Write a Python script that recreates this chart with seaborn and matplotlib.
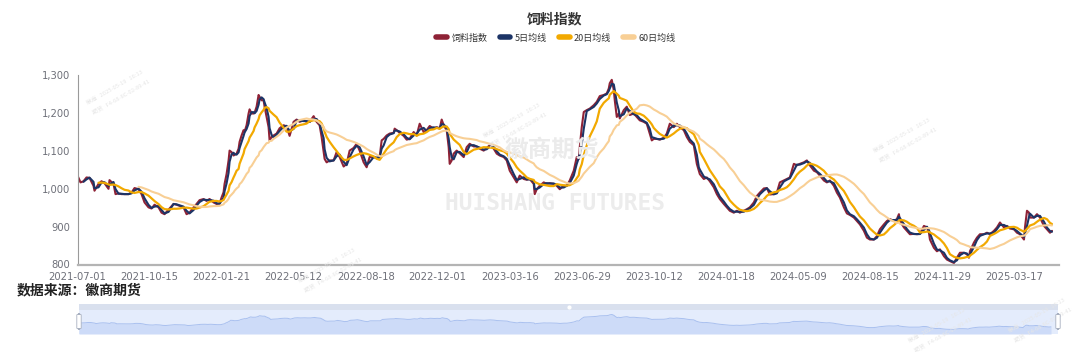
import numpy as np
import pandas as pd
import matplotlib
matplotlib.use("Agg")
import matplotlib.pyplot as plt
import seaborn as sns
from matplotlib.lines import Line2D
from matplotlib.patches import Rectangle, FancyBboxPatch
from matplotlib.ticker import FuncFormatter

# ---------------- data (trading-day index, feed index value) ----------------
day = [0, 3, 6, 9, 12, 16, 17, 21, 24, 27, 31, 32, 36, 38, 41, 44, 47, 51, 54, 57,
       61, 64, 67, 71, 74, 77, 81, 84, 87, 91, 96, 99, 102, 106, 109, 112, 116, 119, 122, 126,
       129, 132, 136, 139, 142, 144, 146, 147, 149, 151, 152, 154, 156, 157, 159, 161, 162, 164, 166, 167,
       169, 171, 172, 174, 176, 177, 179, 181, 182, 184, 186, 187, 189, 191, 192, 194, 196, 199, 202, 206,
       209, 212, 216, 219, 222, 226, 229, 232, 236, 239, 242, 244, 246, 247, 249, 252, 256, 259, 262, 266,
       269, 272, 276, 279, 282, 286, 289, 292, 296, 299, 302, 304, 306, 309, 312, 316, 317, 319, 322, 326,
       329, 332, 336, 339, 342, 346, 349, 352, 356, 359, 362, 364, 366, 369, 371, 372, 374, 376, 379, 382,
       386, 389, 392, 396, 399, 402, 406, 409, 412, 416, 419, 422, 426, 429, 432, 436, 439, 442, 446, 449,
       452, 456, 457, 459, 462, 466, 469, 472, 476, 479, 482, 486, 489, 492, 496, 499, 501, 502, 504, 506,
       509, 512, 516, 519, 522, 526, 529, 531, 532, 534, 536, 537, 539, 541, 542, 546, 549, 552, 556, 559,
       562, 566, 569, 572, 574, 576, 579, 582, 586, 589, 592, 596, 599, 602, 606, 609, 612, 616, 619, 621,
       622, 626, 629, 632, 636, 639, 642, 646, 649, 652, 656, 659, 662, 666, 669, 672, 676, 679, 682, 686,
       689, 692, 696, 699, 702, 706, 709, 712, 716, 719, 722, 726, 729, 732, 736, 739, 742, 746, 749, 752,
       756, 759, 762, 766, 769, 772, 776, 779, 782, 786, 789, 792, 796, 799, 802, 806, 809, 812, 816, 819,
       821, 822, 826, 829, 832, 836, 839, 842, 846, 849, 851, 852, 856, 859, 862, 866, 869, 872, 876, 879,
       882, 886, 889, 891, 892, 896, 899, 902, 906, 909, 912, 916, 919, 922, 926, 929, 932, 936, 939, 942,
       946, 947, 949, 951, 952, 956, 959, 962, 966, 969, 972, 974]

feed_index = [1035, 1017, 1020, 1030, 1029, 1008, 995, 1013, 1020, 1015, 1000, 1023, 1013, 986, 988, 986, 986, 986, 990, 1002,
              999, 986, 964, 951, 948, 958, 951, 937, 933, 945, 960, 958, 955, 951, 933, 937, 951, 960, 970, 973,
              968, 973, 964, 960, 961, 977, 991, 1013, 1039, 1075, 1101, 1097, 1088, 1090, 1093, 1106, 1124, 1141, 1155, 1151,
              1168, 1199, 1210, 1199, 1199, 1201, 1217, 1248, 1243, 1234, 1234, 1217, 1190, 1163, 1128, 1137, 1141, 1146, 1160, 1168,
              1165, 1140, 1177, 1183, 1177, 1181, 1177, 1177, 1192, 1177, 1168, 1137, 1097, 1079, 1070, 1075, 1075, 1097, 1084, 1059,
              1066, 1101, 1108, 1119, 1101, 1070, 1057, 1084, 1084, 1081, 1084, 1128, 1132, 1141, 1146, 1148, 1159, 1155, 1148, 1140,
              1130, 1132, 1150, 1141, 1172, 1150, 1155, 1166, 1159, 1163, 1159, 1183, 1168, 1155, 1110, 1066, 1075, 1093, 1101, 1094,
              1084, 1110, 1119, 1112, 1112, 1106, 1101, 1108, 1115, 1106, 1093, 1088, 1084, 1075, 1048, 1030, 1017, 1035, 1026, 1024,
              1026, 1013, 986, 999, 1008, 1017, 1013, 1015, 1013, 1008, 999, 1008, 1008, 1022, 1048, 1084, 1079, 1110, 1163, 1203,
              1208, 1212, 1221, 1230, 1245, 1248, 1252, 1265, 1279, 1288, 1261, 1234, 1190, 1199, 1186, 1208, 1217, 1195, 1199, 1190,
              1181, 1177, 1172, 1145, 1128, 1132, 1132, 1130, 1135, 1146, 1172, 1163, 1172, 1163, 1155, 1137, 1124, 1115, 1066, 1048,
              1039, 1026, 1030, 1020, 1004, 986, 973, 960, 951, 942, 937, 942, 937, 942, 946, 951, 964, 981, 990, 1001,
              1002, 985, 986, 990, 1017, 1022, 1026, 1030, 1066, 1062, 1066, 1070, 1075, 1062, 1048, 1044, 1035, 1022, 1017, 1022,
              1008, 990, 977, 951, 935, 931, 924, 915, 906, 889, 871, 866, 866, 875, 893, 906, 915, 920, 915, 920,
              933, 915, 898, 889, 880, 881, 880, 881, 902, 898, 884, 866, 844, 835, 840, 822, 813, 809, 804, 818,
              831, 831, 827, 818, 835, 858, 871, 880, 880, 884, 880, 889, 898, 911, 898, 902, 895, 893, 884, 880,
              866, 898, 942, 937, 924, 924, 933, 924, 902, 893, 884, 889]

tick_labels = ["2021-07-01", "2021-10-15", "2022-01-21", "2022-05-12", "2022-08-18",
               "2022-12-01", "2023-03-16", "2023-06-29", "2023-10-12", "2024-01-18",
               "2024-05-09", "2024-08-15", "2024-11-29", "2025-03-17"]
tick_step = 72          # categories between labelled ticks
last_category = 981     # last category index on the axis

series_names = ["饲料指数", "5日均线", "20日均线", "60日均线"]
ma_windows = [None, 5, 20, 60]
colors = ["#8E2236", "#1C3466", "#F2A900", "#F8CF95"]
widths = [1.5, 1.5, 1.6, 1.5]

# ---------------- derived moving averages ----------------
s = pd.Series(feed_index, index=pd.to_timedelta(day, unit="D"), dtype=float)
frames = []
for name, w in zip(series_names, ma_windows):
    if w is None:
        vals = s.values
    else:
        vals = s.rolling(f"{w}D").mean().values.copy()
        vals[np.array(day) < w - 1] = np.nan
    frames.append(pd.DataFrame({"day": day, "value": vals, "series": name}))
long = pd.concat(frames, ignore_index=True).dropna()

# ---------------- figure ----------------
sns.set_theme(style="white")
plt.rcParams["font.family"] = ["Noto Sans CJK SC", "DejaVu Sans"]

W, H = 1080, 352
fig = plt.figure(figsize=(W / 100, H / 100), dpi=100)
fig.patch.set_facecolor("white")

def fx(px):
    return px / W

def fy(py):
    return 1 - py / H

ax_l, ax_r, ax_t, ax_b = 77.5, 1059, 75.3, 264.5
ax = fig.add_axes([fx(ax_l), fy(ax_b), fx(ax_r - ax_l), (ax_b - ax_t) / H])
ax.set_facecolor("none")

# watermarks (behind data)
fig.text(fx(552), fy(150), "徽商期货", fontsize=17, color="#ebebeb", ha="center", va="center",
         fontweight="bold", zorder=0)
fig.text(fx(555), fy(203), "HUISHANG FUTURES", fontsize=16.5, color="#ececec", ha="center",
         va="center", fontweight="bold", family="DejaVu Sans Mono", zorder=0)
for (wx, wy) in [(118, 92), (515, 125), (905, 140), (330, 270), (1040, 320), (940, 330)]:
    fig.text(fx(wx), fy(wy), "徽商   2025-05-19   16:13\n期货   F4-68-8C-02-89-41", fontsize=4.2,
             color="#e6e6e6", rotation=30, ha="center", va="center", zorder=0, linespacing=2.2)

for name, c, lw in zip(series_names, colors, widths):
    sub = long[long["series"] == name]
    sns.lineplot(data=sub, x="day", y="value", color=c, linewidth=lw, ax=ax,
                 estimator=None, sort=False, legend=False)

ax.set_xlim(0, last_category)
ax.set_ylim(800, 1300)
ax.set_yticks(np.arange(800, 1301, 100))
ax.yaxis.set_major_formatter(FuncFormatter(lambda v, p: f"{v:,.0f}"))
ax.set_xticks(np.arange(len(tick_labels)) * tick_step)
ax.set_xticklabels(tick_labels)
ax.set_xlabel("")
ax.set_ylabel("")
for side in ["top", "right"]:
    ax.spines[side].set_visible(False)
ax.spines["left"].set_color("#9a9a9a")
ax.spines["left"].set_linewidth(0.8)
ax.spines["bottom"].set_color("#b4b4b4")
ax.spines["bottom"].set_linewidth(1.6)
ax.tick_params(axis="both", which="major", length=3.5, width=0.8, colors="#9a9a9a",
               labelcolor="#6E7079", labelsize=7.2, pad=2)
ax.tick_params(axis="x", pad=2)
for lab in ax.get_xticklabels() + ax.get_yticklabels():
    lab.set_family("DejaVu Sans")
ax.grid(False)

# title and legend
fig.text(fx(555), fy(19), "饲料指数", fontsize=10, fontweight="bold", color="#333333",
         ha="center", va="center")
handles = [Line2D([0], [0], color=c, lw=4, solid_capstyle="round") for c in colors]
fig.legend(handles, series_names, loc="center", bbox_to_anchor=(fx(556), fy(38)), ncol=4,
           frameon=False, fontsize=6.5, handlelength=1.2, handletextpad=0.5,
           columnspacing=1.3, labelcolor="#333333")

# source
fig.text(fx(17), fy(290), "数据来源：徽商期货", fontsize=10, fontweight="bold", color="#222222",
         ha="left", va="center")

# ---------------- data zoom slider ----------------
sl_l, sl_r, sl_t, sl_b = 79, 1058, 304, 334
axs = fig.add_axes([fx(sl_l), fy(sl_b), fx(sl_r - sl_l), (sl_b - sl_t) / H])
axs.set_xlim(0, last_category)
ext_lo, ext_hi = min(feed_index), max(feed_index)
pad = (ext_hi - ext_lo) * 0.3
band = (ext_hi + pad - (ext_lo - pad)) * (6 / 24)
axs.set_ylim(ext_lo - pad, ext_hi + pad + band)
axs.add_patch(Rectangle((0, ext_lo - pad), last_category, ext_hi - ext_lo + 2 * pad + band,
                        facecolor="#e4ecfc", edgecolor="none", zorder=0))
axs.add_patch(Rectangle((0, ext_hi + pad), last_category, band,
                        facecolor="#d9e0ee", edgecolor="none", zorder=1))
axs.fill_between(day, ext_lo - pad, feed_index, color="#cddbf8", linewidth=0, zorder=2)
sns.lineplot(x=day, y=feed_index, ax=axs, color="#a9c0ef", linewidth=0.7, estimator=None,
             sort=False, legend=False, zorder=3)
axs.plot([last_category / 2], [ext_hi + pad + band / 2], marker="o", ms=2, color="white", zorder=4)
axs.axis("off")
for hx in (sl_l, sl_r):
    fig.patches.append(FancyBboxPatch((fx(hx - 2.2), fy(329)), fx(4.4), 15 / H,
                                      boxstyle="round,pad=0,rounding_size=0.003",
                                      transform=fig.transFigure, facecolor="white",
                                      edgecolor="#a8b0c0", linewidth=0.6, zorder=5))

fig.savefig("out.png", dpi=100, facecolor="white")
